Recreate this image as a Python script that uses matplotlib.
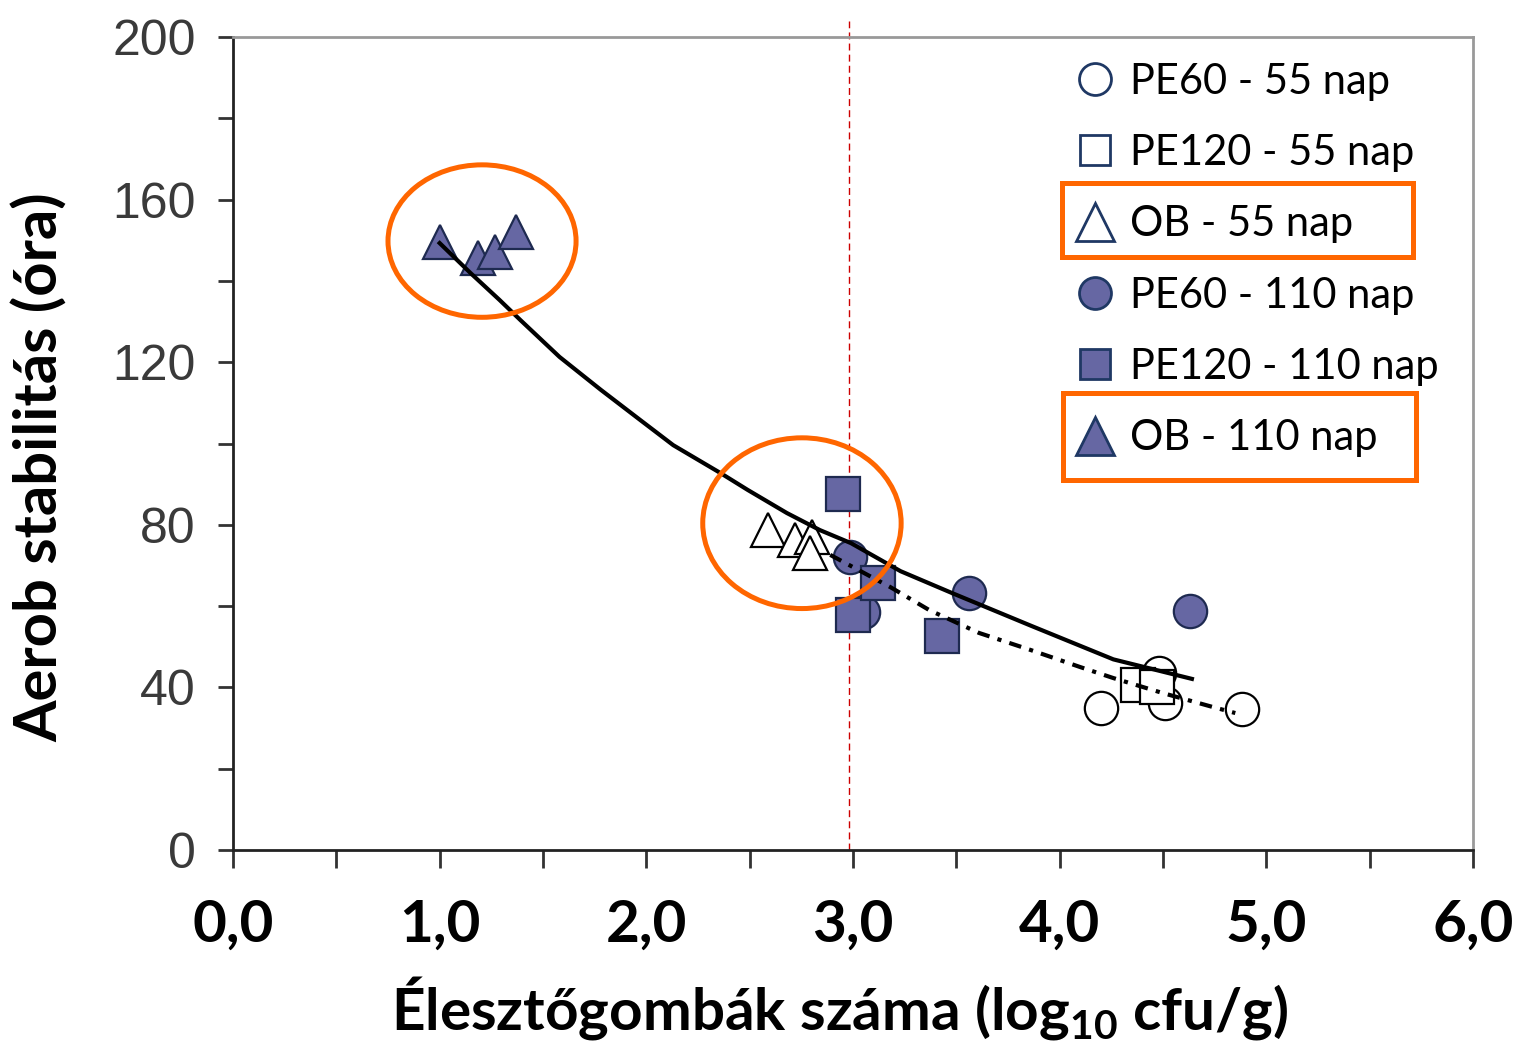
import matplotlib
matplotlib.use("Agg")
import matplotlib.pyplot as plt
from matplotlib.lines import Line2D
from matplotlib.patches import Ellipse, Rectangle

plt.rcParams["mathtext.fontset"] = "custom"
plt.rcParams["mathtext.bf"] = "Lato:bold"
plt.rcParams["mathtext.rm"] = "Lato"

# pontok (log10 cfu/g, óra)
pe60_55_x = [4.20, 4.48, 4.51, 4.88]
pe60_55_y = [34.9, 43.5, 36.2, 34.7]
pe120_55_x = [4.38, 4.47]
pe120_55_y = [40.5, 40.0]
ob55_x = [2.59, 2.72, 2.80, 2.79]
ob55_y = [78.7, 76.3, 77.0, 73.1]
pe60_110_x = [2.985, 3.05, 3.56, 4.63]
pe60_110_y = [72.1, 58.5, 63.2, 58.8]
pe120_110_x = [2.95, 3.00, 3.12, 3.43]
pe120_110_y = [87.6, 57.8, 65.7, 52.6]
ob110_x = [1.00, 1.185, 1.27, 1.37]
ob110_y = [149.6, 145.6, 147.1, 152.0]

# illesztett görbék (leolvasva)
fit_solid_x = [1.00, 1.15, 1.29, 1.39, 1.58, 1.78, 1.97, 2.13, 2.36, 2.49, 2.68, 2.84,
               2.99, 3.23, 3.48, 3.86, 4.26, 4.64]
fit_solid_y = [149.3, 141.9, 135.3, 130.4, 121.3, 113.2, 105.8, 99.6, 92.7, 88.6, 82.9, 78.7,
               75.5, 68.6, 63.2, 55.2, 46.9, 42.1]
fit_dash_x = [2.89, 3.18, 3.37, 3.61, 3.86, 4.10, 4.26, 4.50, 4.74, 4.85]
fit_dash_y = [72.6, 64.7, 59.0, 53.4, 49.2, 45.0, 42.3, 38.6, 35.2, 33.7]

xticks = [0, 1, 2, 3, 4, 5, 6]
xticklabels = ["0,0", "1,0", "2,0", "3,0", "4,0", "5,0", "6,0"]
yticks = [0, 40, 80, 120, 160, 200]
limit_x = 2.98

labels = ["PE60 - 55 nap", "PE120 - 55 nap", "OB - 55 nap",
          "PE60 - 110 nap", "PE120 - 110 nap", "OB - 110 nap"]

fill = "#6667A3"
edge = "#1E2A50"
orange = "#FF6600"

fig = plt.figure(figsize=(15.14, 10.48), dpi=100)
ax = fig.add_axes([0.1539, 0.1889, 0.819, 0.7758])

ms = 24
kw = dict(linestyle="none", markeredgewidth=1.6, zorder=3)
ax.plot(pe60_55_x, pe60_55_y, marker="o", markersize=ms, markerfacecolor="white", markeredgecolor="black", **kw)
ax.plot(pe120_55_x, pe120_55_y, marker="s", markersize=ms, markerfacecolor="white", markeredgecolor="black", **kw)
ax.plot(ob55_x, ob55_y, marker="^", markersize=ms, markerfacecolor="white", markeredgecolor="black", **kw)
ax.plot(pe60_110_x, pe60_110_y, marker="o", markersize=ms, markerfacecolor=fill, markeredgecolor=edge, **kw)
ax.plot(pe120_110_x, pe120_110_y, marker="s", markersize=ms, markerfacecolor=fill, markeredgecolor=edge, **kw)
ax.plot(ob110_x, ob110_y, marker="^", markersize=ms + 1, markerfacecolor=fill, markeredgecolor=edge, **kw)

ax.plot(fit_solid_x, fit_solid_y, color="black", lw=3, zorder=4, solid_joinstyle="round")
ax.plot(fit_dash_x, fit_dash_y, color="black", lw=3, linestyle=(0, (3, 2, 1, 2)), zorder=4)

ax.axvline(limit_x, ymin=0, ymax=1.02, color="#CC0000", lw=1, linestyle=(0, (5, 3)), clip_on=False, zorder=2)

# kiemelő ellipszisek
ax.add_patch(Ellipse((1.205, 149.8), 0.91, 37.5, fill=False, edgecolor=orange, lw=3.6, zorder=5))
ax.add_patch(Ellipse((2.753, 80.4), 0.96, 42.0, fill=False, edgecolor=orange, lw=3.6, zorder=5))

ax.set_xlim(0, 6)
ax.set_ylim(0, 200)
ax.set_xticks(xticks)
ax.set_xticks([0.5, 1.5, 2.5, 3.5, 4.5, 5.5], minor=True)
ax.set_xticklabels(xticklabels, fontfamily="Lato", fontweight="bold", fontsize=42)
ax.set_yticks(yticks)
ax.set_yticks([20, 60, 100, 140, 180], minor=True)
ax.set_yticklabels([str(v) for v in yticks], fontfamily="Liberation Sans", fontsize=36, color="#3a3a3a")

ax.tick_params(axis="x", which="both", direction="out", length=13, width=2, color="#333333", pad=22)
ax.tick_params(axis="y", which="both", direction="out", length=11, width=2, color="#333333", pad=16)

for s in ["left", "bottom"]:
    ax.spines[s].set_color("#222222")
    ax.spines[s].set_linewidth(2)
for s in ["top", "right"]:
    ax.spines[s].set_color("#999999")
    ax.spines[s].set_linewidth(2)

ax.set_xlabel("Élesztőgombák száma (log$_{\\mathbf{10}}$ cfu/g)", fontfamily="Lato", fontweight="bold",
              fontsize=42)
ax.set_ylabel("Aerob stabilitás (óra)", fontfamily="Lato", fontweight="bold", fontsize=43)
ax.xaxis.set_label_coords(0.489, -0.153)
ax.yaxis.set_label_coords(-0.133, 0.471)

lg_edge = "#1F3864"
handles = [
    Line2D([], [], linestyle="none", marker="o", markersize=23, markerfacecolor="white", markeredgecolor=lg_edge, markeredgewidth=2),
    Line2D([], [], linestyle="none", marker="s", markersize=21, markerfacecolor="white", markeredgecolor=lg_edge, markeredgewidth=2),
    Line2D([], [], linestyle="none", marker="^", markersize=27, markerfacecolor="white", markeredgecolor=lg_edge, markeredgewidth=2),
    Line2D([], [], linestyle="none", marker="o", markersize=23, markerfacecolor=fill, markeredgecolor=lg_edge, markeredgewidth=2),
    Line2D([], [], linestyle="none", marker="s", markersize=21, markerfacecolor=fill, markeredgecolor=lg_edge, markeredgewidth=2),
    Line2D([], [], linestyle="none", marker="^", markersize=27, markerfacecolor=fill, markeredgecolor=lg_edge, markeredgewidth=2),
]
leg = ax.legend(handles, labels, loc="upper left", bbox_to_anchor=(0.6846, 0.976), bbox_transform=fig.transFigure,
                frameon=False, handlelength=1.0, handletextpad=0.34, labelspacing=0.80,
                prop={"family": "Lato", "size": 30})

fig.add_artist(Rectangle((0.7015, 0.7548), 0.2318, 0.0706, transform=fig.transFigure,
                         fill=False, edgecolor=orange, lw=3.6))
fig.add_artist(Rectangle((0.7021, 0.542), 0.2332, 0.083, transform=fig.transFigure,
                         fill=False, edgecolor=orange, lw=3.6))

fig.savefig("out.png", dpi=100, facecolor="white")
